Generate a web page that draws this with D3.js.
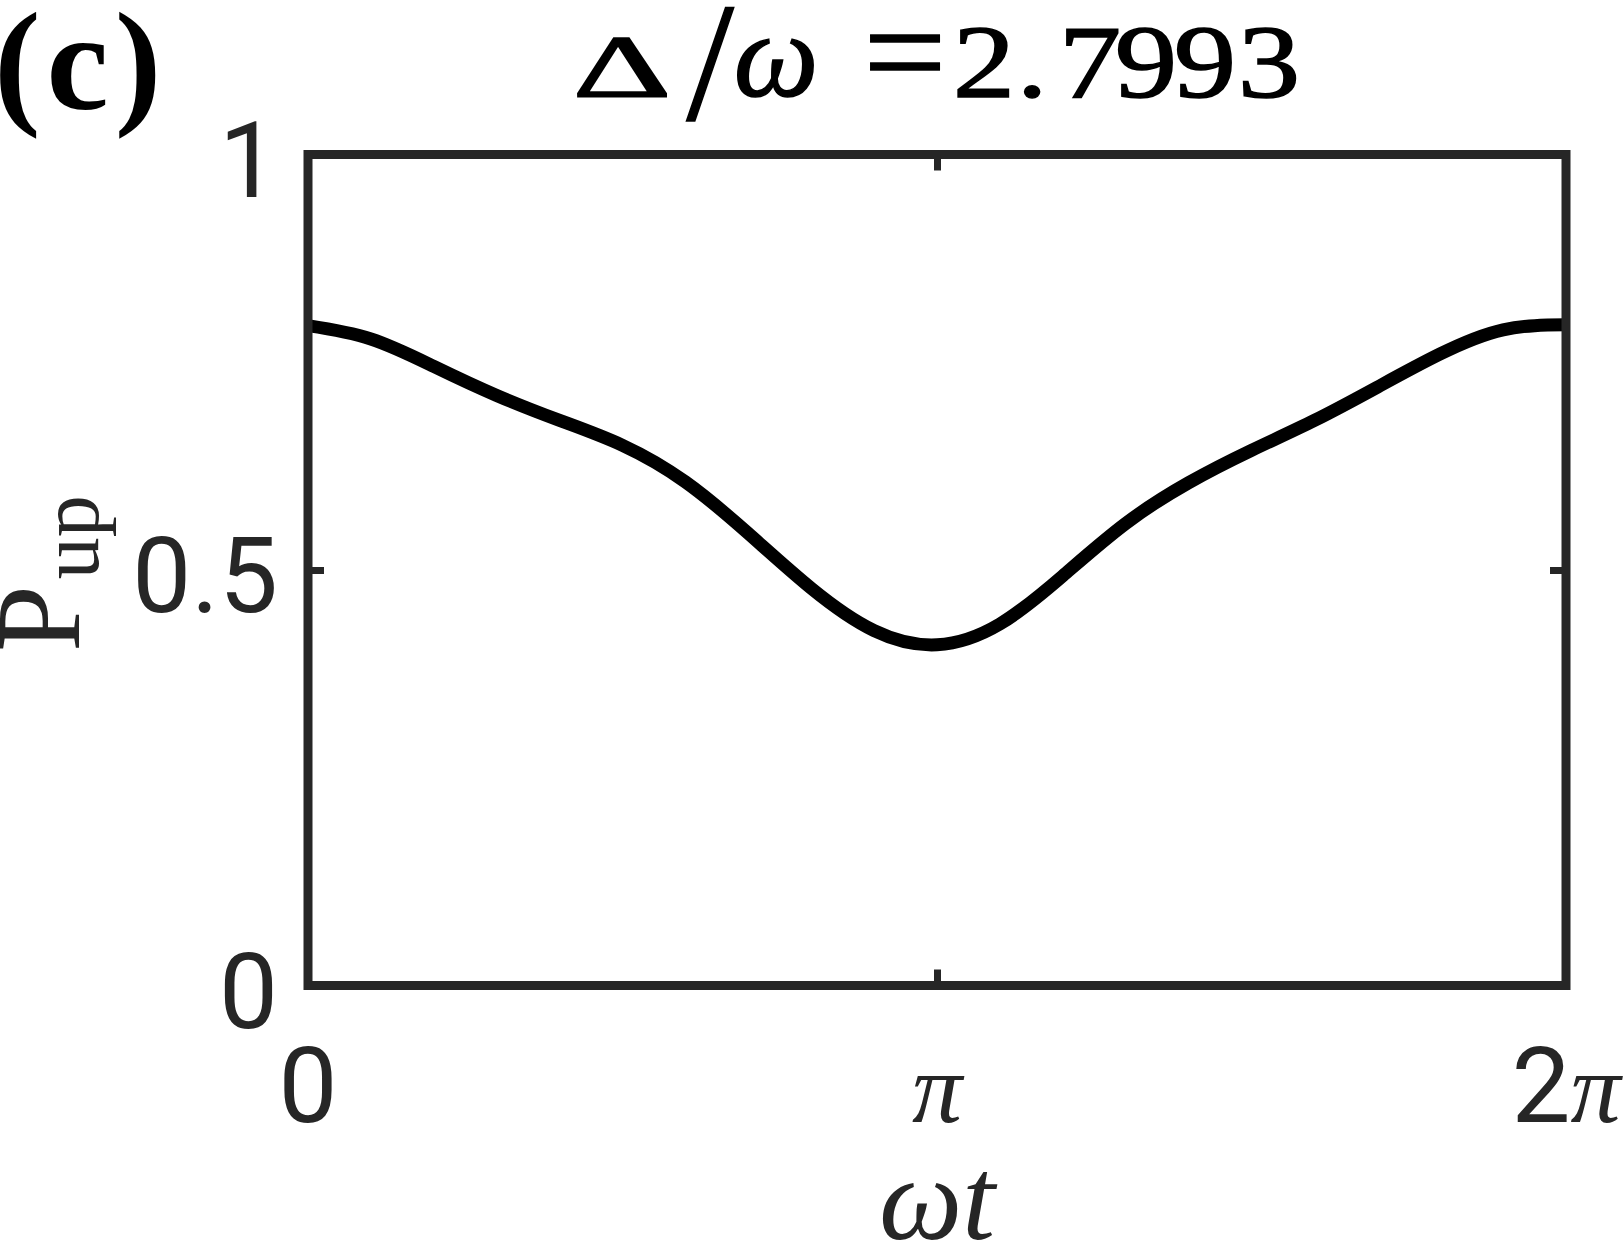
<!DOCTYPE html>
<meta charset="utf-8">
<style>
body { margin: 0; background: #fff; }
.frame { fill: none; stroke: #262626; stroke-width: 9; }
.axis .tick line { stroke: #262626; stroke-width: 7; }
.axis .domain { display: none; }
.lbl { fill: #262626; font-family: Roboto, "Liberation Sans", Arial, sans-serif; font-size: 105px; }
.math { font-family: "Liberation Serif", "Times New Roman", serif; font-style: italic; font-size: 100px; }
.curve { fill: none; stroke: #000; stroke-width: 13; }
.serif { font-family: "Liberation Serif", "Times New Roman", serif; }
</style>
<body>
<script src="https://d3js.org/d3.v7.min.js"></script>
<script>
// values (t given in units of pi)
var tOverPi = [0, 0.1, 0.2, 0.3, 0.4, 0.5, 0.6, 0.7, 0.8, 0.9, 1.0,
  1.1, 1.2, 1.3, 1.4, 1.5, 1.6, 1.7, 1.8, 1.9, 2.0];
var pUp = [0.794, 0.778, 0.745, 0.710, 0.680, 0.650, 0.606, 0.544, 0.478, 0.427, 0.410,
  0.435, 0.493, 0.556, 0.605, 0.644, 0.680, 0.720, 0.760, 0.789, 0.795];

var xTicks = [0, 1, 2];
var yTicks = [0, 0.5, 1];
var yTickLabels = ["0", "0.5", "1"];

// set the dimensions and margins of the graph
var margin = {top: 154.5, right: 58, bottom: 261.5, left: 308},
    width = 1624 - margin.left - margin.right,
    height = 1247 - margin.top - margin.bottom;

var x = d3.scaleLinear().domain([0, 2]).range([0, width]);
var y = d3.scaleLinear().domain([0, 1]).range([height, 0]);

var svg = d3.select("body").append("svg")
    .attr("width", 1624)
    .attr("height", 1247)
    .style("display", "block");

svg.append("rect").attr("width", 1624).attr("height", 1247).attr("fill", "#fff");

var g = svg.append("g")
    .attr("transform", "translate(" + margin.left + "," + margin.top + ")");

// the curve
var line = d3.line()
    .x(function(d, i) { return x(tOverPi[i]); })
    .y(function(d) { return y(d); })
    .curve(d3.curveNatural);

g.append("path")
    .datum(pUp)
    .attr("class", "curve")
    .attr("d", line);

// inward ticks on all four sides, labels added by hand below
g.append("g").attr("class", "axis")
    .attr("transform", "translate(0," + height + ")")
    .call(d3.axisBottom(x).tickValues(xTicks).tickSize(-16).tickFormat(""));
g.append("g").attr("class", "axis")
    .call(d3.axisTop(x).tickValues(xTicks).tickSize(-16).tickFormat(""));
g.append("g").attr("class", "axis")
    .call(d3.axisLeft(y).tickValues(yTicks).tickSize(-16).tickFormat(""));
g.append("g").attr("class", "axis")
    .attr("transform", "translate(" + width + ",0)")
    .call(d3.axisRight(y).tickValues(yTicks).tickSize(-16).tickFormat(""));

// box
g.append("rect")
    .attr("class", "frame")
    .attr("width", width)
    .attr("height", height);

// x tick labels
var xl = g.append("g");
xl.append("text").attr("class", "lbl")
    .attr("x", x(0)).attr("y", height + 136.5)
    .attr("text-anchor", "middle")
    .text("0");
xl.append("text").attr("class", "lbl math")
    .attr("x", x(1)).attr("y", height + 136.5)
    .attr("text-anchor", "middle")
    .text("π");
var t2 = xl.append("text").attr("class", "lbl")
    .attr("x", x(2)).attr("y", height + 136.5)
    .attr("text-anchor", "middle");
t2.append("tspan").text("2");
t2.append("tspan").attr("class", "math").text("π");

// y tick labels
g.selectAll(".ylbl")
    .data(yTicks)
  .enter().append("text")
    .attr("class", "lbl ylbl")
    .attr("x", -30)
    .attr("y", function(d) { return y(d) + 42; })
    .attr("text-anchor", "end")
    .text(function(d, i) { return yTickLabels[i]; });

// y axis label P_up
var yl = svg.append("text")
    .attr("class", "serif")
    .attr("transform", "translate(79,652) rotate(-90)")
    .attr("fill", "#262626");
yl.append("tspan").style("font-size", "120px").text("P");
yl.append("tspan").style("font-size", "84px").attr("dx", 6).attr("dy", 19).text("up");

// x axis label
svg.append("text")
    .attr("class", "serif")
    .attr("x", margin.left + width / 2)
    .attr("y", 1239)
    .attr("text-anchor", "middle")
    .attr("fill", "#262626")
    .style("font-style", "italic")
    .style("font-size", "118px")
    .text("ωt");

// title, glyphs placed one by one to follow the wide TeX spacing
var titleParts = [
  {s: "Δ", cx: 622, size: 88, sx: 1.75, by: 96},
  {s: "/", cx: 710, size: 170, sx: 1, by: 119},
  {s: "ω", cx: 776, size: 120, sx: 1, by: 96, it: true},
  {s: "=", cx: 905, size: 140, sx: 1.05, by: 99},
  {s: "2", cx: 984, size: 104, sx: 1.2, by: 97},
  {s: ".", cx: 1032, size: 104, sx: 1.2, by: 97},
  {s: "7", cx: 1090, size: 104, sx: 1.2, by: 97},
  {s: "9", cx: 1146, size: 104, sx: 1.2, by: 97},
  {s: "9", cx: 1205, size: 104, sx: 1.2, by: 97},
  {s: "3", cx: 1269, size: 104, sx: 1.2, by: 97}
];
svg.append("g").selectAll("text")
    .data(titleParts)
  .enter().append("text")
    .attr("class", "serif")
    .attr("transform", function(d) { return "translate(" + d.cx + "," + d.by + ") scale(" + d.sx + ",1)"; })
    .attr("text-anchor", "middle")
    .attr("fill", "#000")
    .attr("stroke", "#000")
    .attr("stroke-width", 1.5)
    .style("font-size", function(d) { return d.size + "px"; })
    .style("font-style", function(d) { return d.it ? "italic" : "normal"; })
    .text(function(d) { return d.s; });

// panel letter
svg.append("text")
    .attr("class", "serif")
    .attr("x", -6)
    .attr("y", 109)
    .attr("fill", "#000")
    .style("font-weight", "bold")
    .style("font-size", "140px")
    .style("letter-spacing", "6px")
    .text("(c)");
</script>
</body>
